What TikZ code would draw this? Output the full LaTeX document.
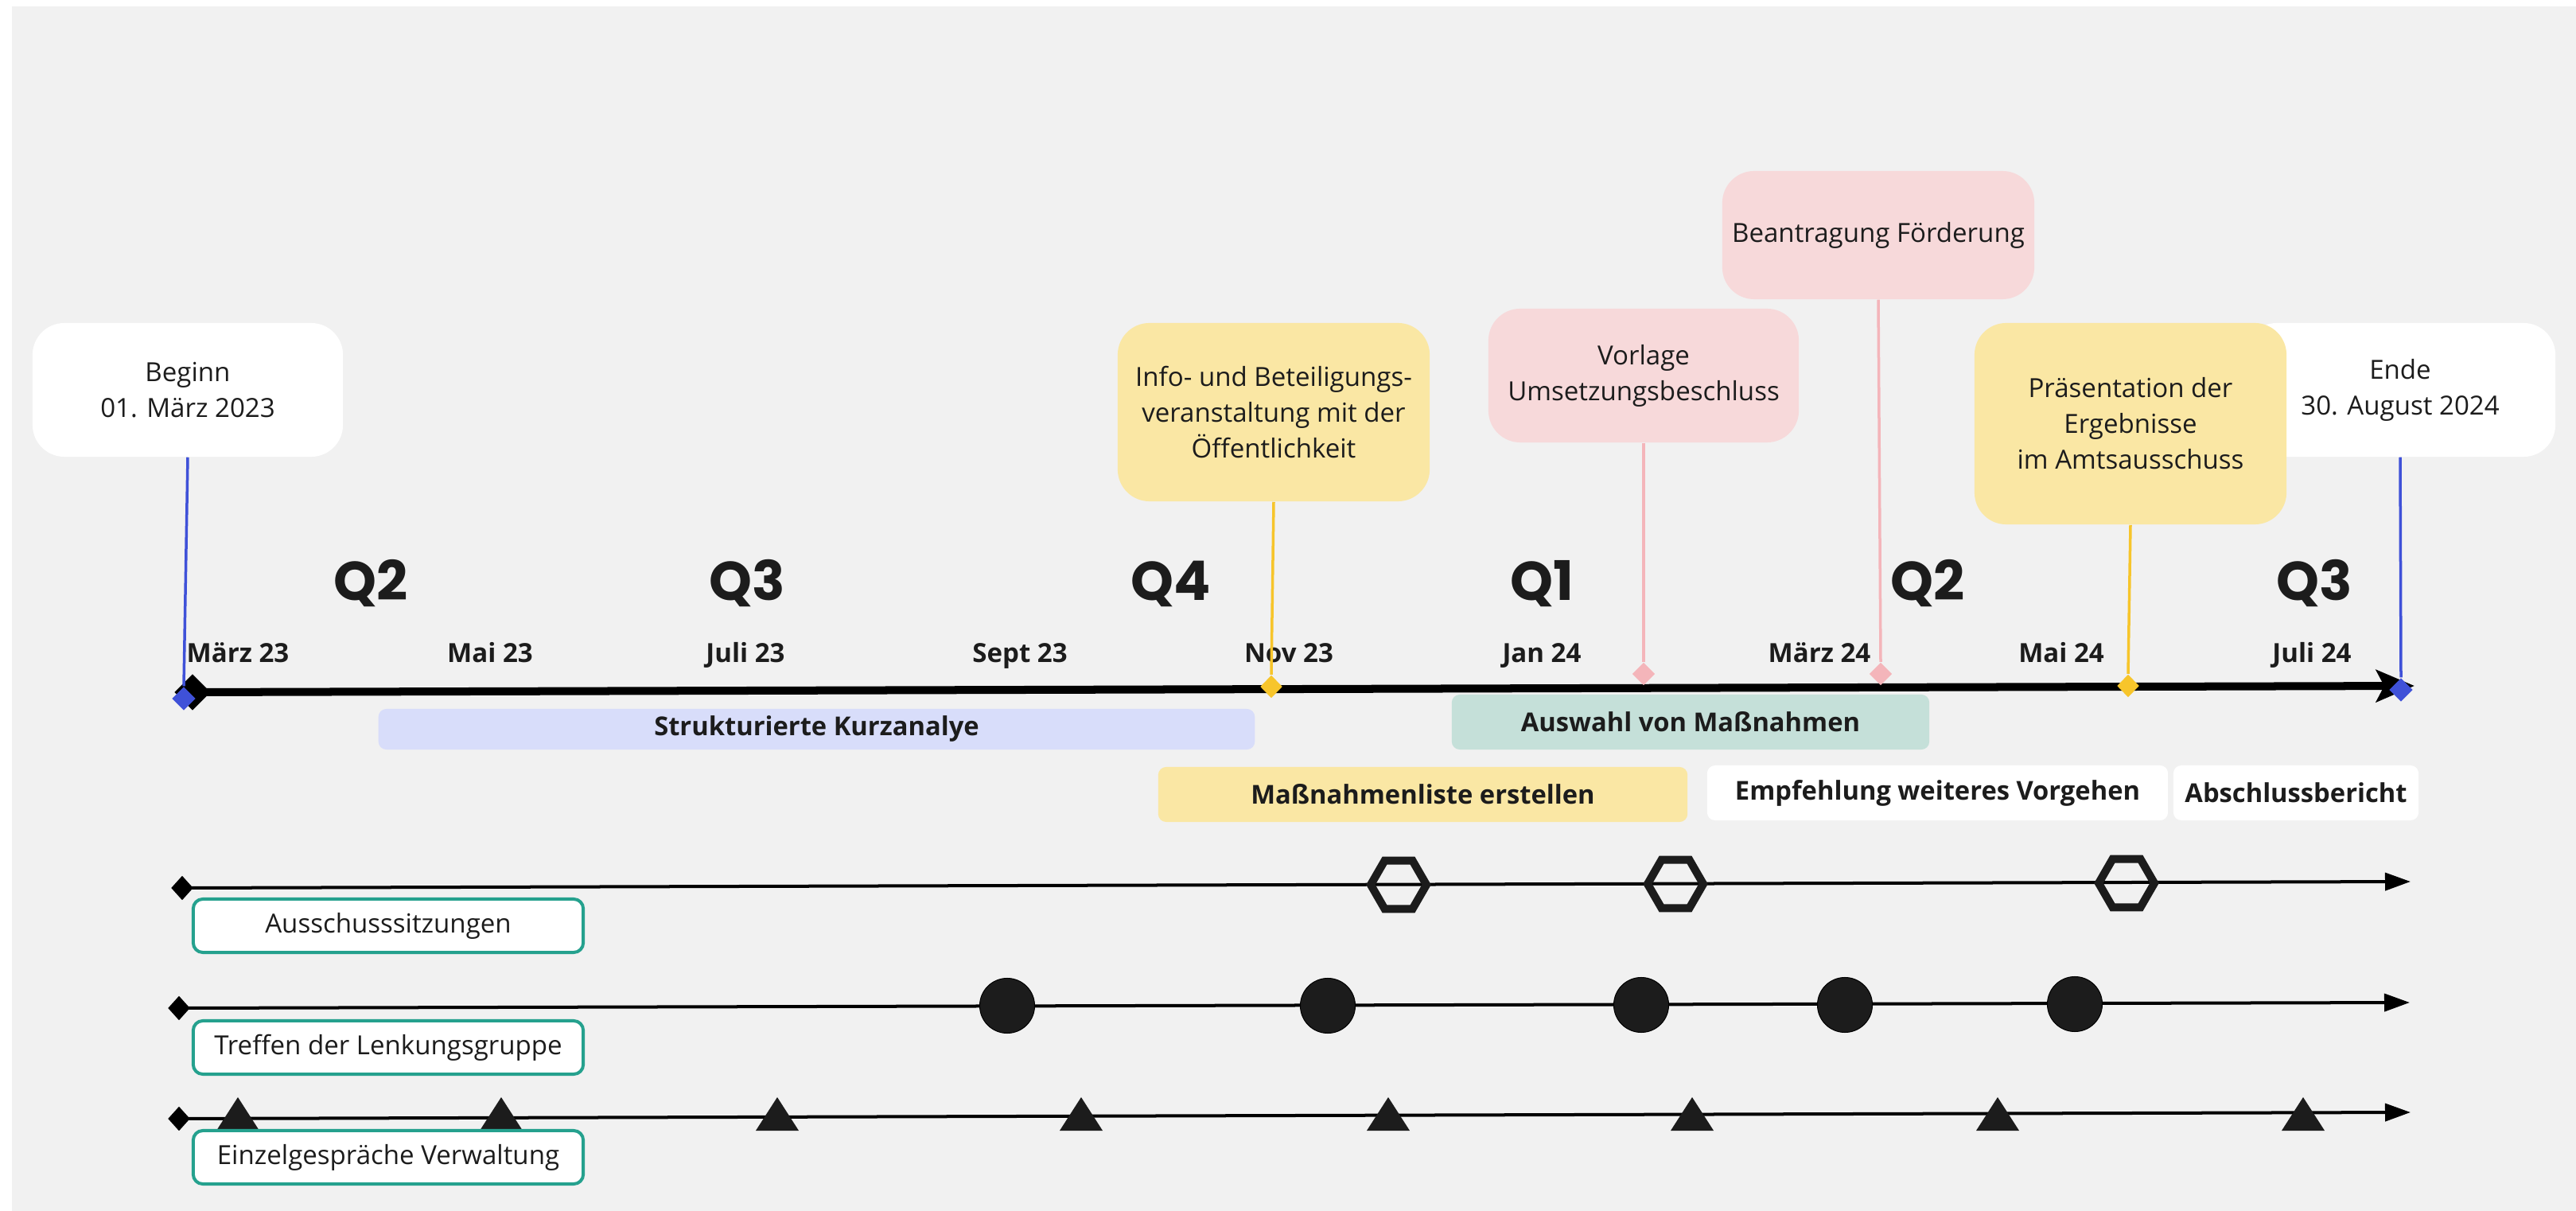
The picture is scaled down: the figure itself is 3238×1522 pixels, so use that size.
\documentclass[tikz,border=0pt]{standalone}
\usepackage{fontspec}
\setmainfont{Open Sans}
\newfontfamily\qfont{Poppins}
\usetikzlibrary{shapes.geometric,arrows.meta}
\definecolor{bg}{HTML}{F1F1F1}
\definecolor{txtc}{HTML}{1C1C1C}
\definecolor{ylw}{HTML}{FAE7A4}
\definecolor{ylwline}{HTML}{F7C52B}
\definecolor{pnk}{HTML}{F7D9DA}
\definecolor{pnkline}{HTML}{F4B5BA}
\definecolor{blu}{HTML}{3F51D8}
\definecolor{lav}{HTML}{D8DDFA}
\definecolor{mint}{HTML}{C5E0D9}
\definecolor{tealc}{HTML}{25A18E}
\definecolor{mk}{HTML}{1C1C1C}
\begin{document}
\begin{tikzpicture}[x=0.01cm,y=-0.01cm,
  txt/.style={font=\fontsize{9.4}{12.8}\selectfont, align=center, text=txtc},
  bigbox/.style={txt, rounded corners=0.4cm, inner sep=0pt, draw=none},
  month/.style={font=\bfseries\fontsize{9.4}{11}\selectfont, anchor=base, text=txtc, inner sep=0pt},
  qlab/.style={font=\qfont\bfseries\fontsize{19.5}{20}\selectfont, anchor=base, text=txtc, inner sep=0pt},
  bar/.style={font=\bfseries\fontsize{9.3}{11}\selectfont, text=txtc, rounded corners=0.1cm, inner sep=0pt},
  lbl/.style={txt, draw=tealc, line width=0.04cm, fill=white, rounded corners=0.12cm, minimum width=4.9cm, minimum height=0.67cm, inner sep=0pt},
  dmd/.style={diamond, inner sep=0pt, draw=none},
  conn/.style={line width=0.035cm},
  rowline/.style={line width=0.04cm, draw=black, -{Triangle[length=0.32cm,width=0.22cm]}},
  rowstart/.style={dmd, fill=black, minimum width=0.28cm, minimum height=0.31cm},
  hexa/.style={regular polygon, regular polygon sides=6, draw=mk, line width=0.1cm, minimum size=0.7cm, inner sep=0pt},
  dot/.style={circle, fill=mk, draw=black, line width=0.01cm, minimum size=0.69cm, inner sep=0pt}
]
\useasboundingbox (0,0) rectangle (3238,1522);
\fill[white] (0,0) rectangle (3238,1522);
\fill[bg] (15,8) rectangle (3238,1522);

% milestone boxes
\node[bigbox, fill=white, minimum width=3.9cm, minimum height=1.68cm] (beginn) at (236,490) {Beginn\\01. März 2023};
\node[bigbox, fill=white, minimum width=3.9cm, minimum height=1.68cm] (ende) at (3017,490) {Ende\\30. August 2024};
\node[bigbox, fill=ylw, minimum width=3.92cm, minimum height=2.24cm] (info) at (1601,518) {Info- und Beteiligungs-\\veranstaltung mit der\\Öffentlichkeit};
\node[bigbox, fill=pnk, minimum width=3.9cm, minimum height=1.68cm] (vorlage) at (2066,472) {Vorlage\\Umsetzungsbeschluss};
\node[bigbox, fill=pnk, minimum width=3.92cm, minimum height=1.61cm] (antrag) at (2361,295.5) {Beantragung Förderung};
\node[bigbox, fill=ylw, minimum width=3.92cm, minimum height=2.53cm] (praes) at (2678,532.5) {Präsentation der\\Ergebnisse\\im Amtsausschuss};

% quarter labels
\node[qlab] (q1) at (466,755) {Q2};
\node[qlab] (q2) at (939,755) {Q3};
\node[qlab] (q3) at (1472,755) {Q4};
\node[qlab] (q4) at (1938,755) {Q1};
\node[qlab] (q5) at (2423,755) {Q2};
\node[qlab] (q6) at (2909,755) {Q3};

% month labels
\node[month] (m1) at (299,833) {März 23};
\node[month] (m2) at (616,833) {Mai 23};
\node[month] (m3) at (937,833) {Juli 23};
\node[month] (m4) at (1282,833) {Sept 23};
\node[month] (m5) at (1620,833) {Nov 23};
\node[month] (m6) at (1938,833) {Jan 24};
\node[month] (m7) at (2287,833) {März 24};
\node[month] (m8) at (2591,833) {Mai 24};
\node[month] (m9) at (2906,833) {Juli 24};

% main axis
\node[dmd, fill=black, minimum width=0.46cm, minimum height=0.46cm] (ax0) at (242,870) {};
\coordinate (ax1) at (3035,862);
\draw[line width=0.1cm, -{Stealth[length=0.48cm,width=0.4cm,inset=0.1cm]}] (ax0.center) -- (ax1);

% markers on the axis
\node[dmd, fill=blu, minimum size=0.3cm] (bd0) at (231,878) {};
\node[dmd, fill=blu, minimum size=0.3cm] (bd1) at (3018,867) {};
\node[dmd, fill=ylwline, minimum width=0.28cm, minimum height=0.29cm] (yd0) at (1598,863) {};
\node[dmd, fill=ylwline, minimum width=0.28cm, minimum height=0.29cm] (yd1) at (2675,862) {};
\node[dmd, fill=pnkline, minimum size=0.29cm] (pd0) at (2066,847) {};
\node[dmd, fill=pnkline, minimum size=0.29cm] (pd1) at (2364,847) {};

% connectors
\draw[conn, blu] (beginn.south) -- (bd0.north);
\draw[conn, blu] (ende.south) -- (bd1.north);
\draw[conn, ylwline] (info.south) -- (yd0.north);
\draw[conn, ylwline] (praes.south) -- (yd1.north);
\draw[conn, pnkline] (vorlage.south) -- (pd0.north);
\draw[conn, pnkline] (antrag.south) -- (pd1.north);

% phase bars
\node[bar, fill=lav, minimum width=11.01cm, minimum height=0.51cm] (bS) at (1026.5,916.5) {Strukturierte Kurzanalye};
\node[bar, fill=mint, minimum width=6.0cm, minimum height=0.69cm] (bA) at (2125,907.5) {Auswahl von Maßnahmen};
\node[bar, fill=ylw, minimum width=6.65cm, minimum height=0.69cm] (bM) at (1788.5,998.5) {Maßnahmenliste erstellen};
\node[bar, fill=white, minimum width=5.79cm, minimum height=0.69cm] (bE) at (2435.5,996.5) {Empfehlung weiteres Vorgehen};
\node[bar, fill=white, minimum width=3.08cm, minimum height=0.69cm] (bB) at (2886,996.5) {Abschlussbericht};

% row 1: Ausschusssitzungen
\node[rowstart] (r1s) at (229,1116) {};
\coordinate (r1e) at (3030,1108);
\draw[rowline] (r1s.center) -- (r1e);
\node[hexa] (h1) at (1758,1112) {};
\node[hexa] (h2) at (2106,1111) {};
\node[hexa] (h3) at (2673,1110) {};
\node[lbl] (l1) at (488,1163.5) {Ausschusssitzungen};

% row 2: Lenkungsgruppe
\node[rowstart] (r2s) at (225,1267) {};
\coordinate (r2e) at (3029,1260);
\draw[rowline] (r2s.center) -- (r2e);
\node[dot] (c1) at (1266,1264) {};
\node[dot] (c2) at (1669,1264) {};
\node[dot] (c3) at (2063,1263) {};
\node[dot] (c4) at (2319,1263) {};
\node[dot] (c5) at (2608,1262) {};
\node[lbl] (l2) at (488,1316.5) {Treffen der Lenkungsgruppe};

% row 3: Einzelgespraeche
\node[rowstart] (r3s) at (225,1406) {};
\coordinate (r3e) at (3030,1398);
\draw[rowline] (r3s.center) -- (r3e);
\foreach \x [count=\i] in {299,630,977,1359,1745,2127,2511,2895} {
  \coordinate (t\i) at (\x,1400);
  \fill[mk] (\x-27,1421) -- (\x+27,1421) -- (\x,1379) -- cycle;
}
\node[lbl] (l3) at (488,1454.5) {Einzelgespräche Verwaltung};
\end{tikzpicture}
\end{document}
